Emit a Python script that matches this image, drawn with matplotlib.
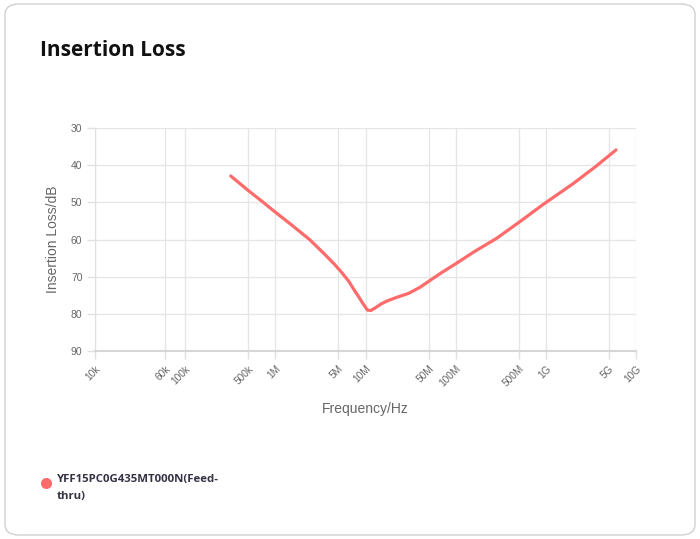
import matplotlib
matplotlib.use("Agg")
import matplotlib.pyplot as plt
from matplotlib.patches import FancyBboxPatch
from matplotlib.lines import Line2D

# data (Hz, dB)
freq = [3.2e5, 5e5, 7e5, 1.03e6, 1.5e6, 2.42e6, 3.5e6, 4.5e6, 5.5e6, 6.5e6,
        7.5e6, 8.5e6, 9.4e6, 1.05e7, 1.15e7, 1.3e7, 1.5e7, 1.75e7, 2.2e7,
        3.0e7, 4.0e7, 5.2e7, 7.0e7, 1.02e8, 1.6e8, 2.84e8, 5.15e8, 9.3e8,
        2.0e9, 3.6e9, 6.0e9]
loss = [42.9, 46.8, 49.6, 52.9, 56.0, 60.1, 63.9, 66.6, 69.0, 71.2,
        73.6, 75.6, 77.3, 79.0, 79.1, 78.3, 77.3, 76.5, 75.6,
        74.5, 72.9, 71.0, 68.9, 66.4, 63.3, 59.7, 55.2, 50.6,
        45.0, 40.3, 35.9]

tick_vals = [1e4, 6e4, 1e5, 5e5, 1e6, 5e6, 1e7, 5e7, 1e8, 5e8, 1e9, 5e9, 1e10]
tick_text = ["10k", "60k", "100k", "500k", "1M", "5M", "10M", "50M", "100M",
             "500M", "1G", "5G", "10G"]
y_ticks = [30, 40, 50, 60, 70, 80, 90]

series_name = "YFF15PC0G435MT000N(Feed-\nthru)"
line_color = "#ff6b6b"

fig = plt.figure(figsize=(7, 5.39), dpi=100)

# card background
card = FancyBboxPatch((5 / 700, 4 / 539), 690 / 700, 531 / 539,
                      boxstyle="round,pad=0,rounding_size=0.02",
                      transform=fig.transFigure, facecolor="white",
                      edgecolor="#d0d0d0", linewidth=1, zorder=-10)
fig.patches.append(card)

ax = fig.add_axes([95 / 700, 1 - 351 / 539, 541 / 700, 223 / 539])
ax.set_facecolor("none")
ax.plot(freq, loss, color=line_color, linewidth=2.3, solid_capstyle="round",
        solid_joinstyle="round")

ax.set_xscale("log")
ax.set_xlim(1e4, 1e10)
ax.set_ylim(90, 30)
ax.minorticks_off()
ax.set_xticks(tick_vals)
ax.set_xticklabels(tick_text, rotation=45, ha="right", rotation_mode="anchor",
                   fontsize=7.3, color="#666666", family="Liberation Sans")
ax.set_yticks(y_ticks)
ax.set_yticklabels([str(v) for v in y_ticks], fontsize=7.5, color="#666666",
                   family="Liberation Sans")
ax.tick_params(axis="both", length=6, color="#e0e0e0", width=1)
ax.tick_params(axis="x", pad=3)
ax.tick_params(axis="y", pad=3)
ax.grid(True, color="#e6e6e6", linewidth=1)
ax.set_axisbelow(True)
for s in ["top", "right"]:
    ax.spines[s].set_visible(False)
ax.spines["left"].set_color("#e0e0e0")
ax.spines["bottom"].set_color("#d6d6d6")
ax.spines["bottom"].set_linewidth(1.5)

ax.set_xlabel("Frequency/Hz", fontsize=10, color="#666666",
              family="Liberation Sans", labelpad=10)
ax.set_ylabel("Insertion Loss/dB", fontsize=10, color="#666666",
              family="Liberation Sans", labelpad=8)

fig.text(40 / 700, 1 - 51 / 539, "Insertion Loss", fontsize=15, fontweight="bold",
         family="Open Sans", color="#111111", va="center")

# legend
fig.add_artist(Line2D([46 / 700], [1 - 483 / 539], marker="o", markersize=7,
                      color=line_color, transform=fig.transFigure))
fig.text(57 / 700, 1 - 474 / 539, series_name, fontsize=8.2, fontweight="bold",
         family="Open Sans", color="#333344", va="top", linespacing=1.7)

fig.savefig("out.png", dpi=100)
